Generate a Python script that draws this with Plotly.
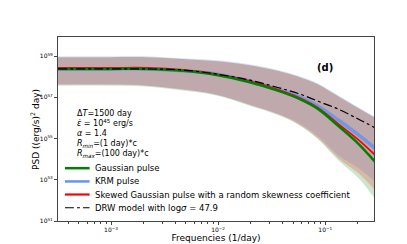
import numpy as np
import plotly.graph_objects as go

# Frequencies (1/day)
freq = [3.2e-4, 1e-3, 2.2e-3, 4.7e-3, 9.4e-3, 0.019, 0.036, 0.056, 0.086, 0.132, 0.203, 0.293]

# log10 PSD ((erg/s)^2 day)
gauss_mid = [58.38, 58.38, 58.38, 58.29, 58.10, 57.76, 57.33, 56.95, 56.43, 55.62, 54.76, 53.86]
gauss_hi = [58.95, 58.95, 58.95, 58.86, 58.76, 58.57, 58.29, 58.00, 57.62, 57.05, 56.48, 56.00]
gauss_lo = [57.57, 57.57, 57.52, 57.33, 57.10, 56.62, 56.14, 55.67, 54.95, 53.95, 53.10, 52.05]

krm_mid = [58.38, 58.38, 58.38, 58.29, 58.14, 57.81, 57.38, 57.05, 56.57, 55.90, 55.19, 54.52]
krm_hi = [59.00, 59.00, 59.00, 58.90, 58.81, 58.62, 58.33, 58.05, 57.67, 57.10, 56.52, 56.05]
krm_lo = [57.62, 57.62, 57.57, 57.38, 57.14, 56.67, 56.19, 55.76, 55.10, 54.19, 53.57, 52.90]

skew_mid = [58.43, 58.43, 58.43, 58.33, 58.14, 57.81, 57.38, 57.00, 56.48, 55.71, 54.95, 54.19]
skew_hi = [58.95, 58.95, 58.95, 58.86, 58.76, 58.57, 58.29, 58.00, 57.62, 57.05, 56.48, 56.00]
skew_lo = [57.62, 57.62, 57.57, 57.38, 57.14, 56.67, 56.19, 55.71, 55.00, 54.05, 53.33, 52.48]

drw = [58.38, 58.38, 58.38, 58.33, 58.14, 57.86, 57.48, 57.19, 56.81, 56.43, 55.95, 55.52]

y_tick_exp = [51, 53, 55, 57, 59]
x_tick_exp = [-3, -2, -1]

legend_names = ["Gaussian pulse", "KRM pulse",
                "Skewed Gaussian pulse with a random skewness coefficient",
                "DRW model with log<i>σ</i> = 47.9"]

def p(v):
    return list(10 ** np.array(v))

fig = go.Figure()

bands = [
    (gauss_lo, gauss_hi, "rgba(0,128,0,0.2)"),
    (krm_lo, krm_hi, "rgba(100,149,237,0.26)"),
    (skew_lo, skew_hi, "rgba(255,0,0,0.19)"),
]
for lo, hi, col in bands:
    fig.add_trace(go.Scatter(x=freq, y=p(lo), mode="lines", line=dict(width=0, shape="spline"),
                             showlegend=False, hoverinfo="skip"))
    fig.add_trace(go.Scatter(x=freq, y=p(hi), mode="lines", line=dict(width=0, shape="spline"),
                             fill="tonexty", fillcolor=col, showlegend=False, hoverinfo="skip"))

styles = {
    "gauss": dict(color="green", width=2.5),
    "krm": dict(color="rgba(100,149,237,0.85)", width=3.5),
    "skew": dict(color="red", width=1.8),
    "drw": dict(color="black", width=1.2, dash="dashdot"),
}

fig.add_trace(go.Scatter(x=freq, y=p(krm_mid), mode="lines", name=legend_names[1],
                         line=dict(shape="spline", **styles["krm"]), showlegend=False))
fig.add_trace(go.Scatter(x=freq, y=p(skew_mid), mode="lines", name=legend_names[2],
                         line=dict(shape="spline", **styles["skew"]), showlegend=False))
fig.add_trace(go.Scatter(x=freq, y=p(gauss_mid), mode="lines", name=legend_names[0],
                         line=dict(shape="spline", **styles["gauss"]), showlegend=False))
fig.add_trace(go.Scatter(x=freq, y=p(drw), mode="lines", name=legend_names[3],
                         line=dict(shape="spline", **styles["drw"]), showlegend=False))

# legend drawn as shapes + text for compact matplotlib-like spacing
leg_styles = [dict(color="green", width=2.5), dict(color="cornflowerblue", width=2.5),
              dict(color="red", width=2.2), dict(color="black", width=1.2, dash="dashdot")]
leg_y = [0.287, 0.215, 0.144, 0.072]
for name, st, yy in zip(legend_names, leg_styles, leg_y):
    fig.add_shape(type="line", xref="paper", yref="paper", x0=0.022, x1=0.100, y0=yy, y1=yy, line=st)
    fig.add_annotation(text=name, x=0.112, y=yy, xref="paper", yref="paper", xanchor="left",
                       yanchor="middle", showarrow=False, font=dict(size=8.5))

minor_x = [m * 10.0 ** e for e in range(-4, 0) for m in range(2, 10)]

fig.update_layout(
    width=407, height=244,
    margin=dict(l=50, r=41, t=29, b=27),
    paper_bgcolor="white", plot_bgcolor="white",
    font=dict(family="DejaVu Sans", size=9, color="black"),
    showlegend=False,
    xaxis=dict(type="log", range=[-3.495, -0.545], showgrid=False, zeroline=False,
               showline=True, linecolor="#444", linewidth=1, mirror=True,
               ticks="outside", ticklen=3, tickcolor="#444",
               tickvals=[10.0 ** e for e in x_tick_exp],
               ticktext=["10<sup>−%d</sup>" % (-e) for e in x_tick_exp],
               tickfont=dict(size=6),
               minor=dict(ticks="outside", ticklen=1.5, tickcolor="#444", tickvals=minor_x),
               title=dict(text="Frequencies (1/day)", font=dict(size=9), standoff=0)),
    yaxis=dict(type="log", range=[51, 59.93], showgrid=False, zeroline=False,
               showline=True, linecolor="#444", linewidth=1, mirror=True,
               ticks="outside", ticklen=3, tickcolor="#444",
               tickvals=[10.0 ** e for e in y_tick_exp],
               ticktext=["10<sup>%d</sup>" % e for e in y_tick_exp],
               tickfont=dict(size=6)),
)

fig.add_annotation(text="PSD ((erg/s)<sup>2</sup> day)", x=-0.073, y=0.5, xref="paper", yref="paper",
                   textangle=-90, showarrow=False, font=dict(size=9), xanchor="center", yanchor="middle")

lines = [
    "Δ<i>T</i>=1500 day",
    "<i>ε̇</i> = 10<sup>45</sup> erg/s",
    "<i>α</i> = 1.4",
    "<i>R</i><sub><i>min</i></sub>=(1 day)*c",
    "<i>R</i><sub><i>max</i></sub>=(100 day)*c",
]
ys = [0.585, 0.53, 0.475, 0.42, 0.365]
for t, yy in zip(lines, ys):
    fig.add_annotation(text=t, x=0.055, y=yy, xref="paper", yref="paper", xanchor="left",
                       yanchor="middle", showarrow=False, font=dict(size=8))

fig.add_annotation(text="<b>(d)</b>", x=0.875, y=0.875, xref="paper", yref="paper",
                   showarrow=False, font=dict(size=10))

fig.write_html("out.html")
